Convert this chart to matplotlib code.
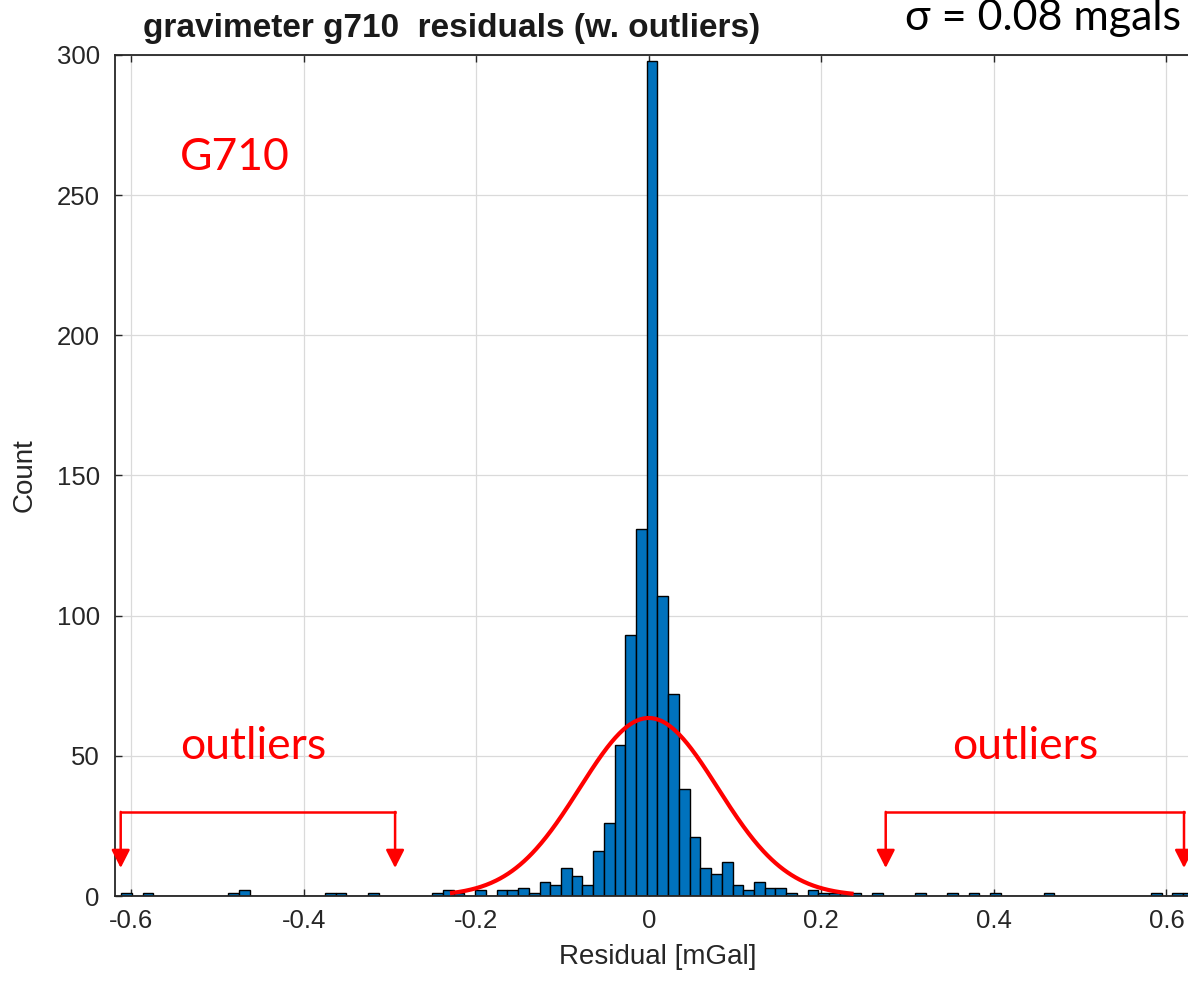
import numpy as np
import matplotlib.pyplot as plt

# histogram of residuals, fixed-width bins starting at bin_start
bin_start = -0.6114
bin_width = 0.01243
counts = [
    1, 0, 1, 0, 0, 0, 0, 0, 0, 0,        # -0.611 .. -0.499
    1, 2, 0, 0, 0, 0, 0, 0, 0, 1,        # -0.487 .. -0.375
    1, 0, 0, 1, 0, 0, 0, 0, 0, 1,        # -0.362 .. -0.251
    2, 1, 0, 2, 0, 2, 2, 3, 1, 5,        # -0.238 .. -0.126
    4, 10, 7, 4, 16, 26, 54, 93, 131, 298,   # -0.114 .. -0.002
    107, 72, 38, 21, 10, 8, 12, 4, 2, 5,  # 0.010 .. 0.122
    3, 3, 1, 0, 2, 1, 1, 1, 1, 0,        # 0.134 .. 0.246
    1, 0, 0, 0, 1, 0, 0, 1, 0, 1,        # 0.259 .. 0.371
    0, 1, 0, 0, 0, 0, 1, 0, 0, 0,        # 0.383 .. 0.495
    0, 0, 0, 0, 0, 0, 1, 0, 1, 1,        # 0.508 .. 0.619
]

# normal fit drawn over the core of the distribution
fit_mu = 0.0
fit_sigma = 0.08
fit_peak = 63.5
fit_range = (-0.228, 0.235)

xticks = [-0.6, -0.4, -0.2, 0, 0.2, 0.4, 0.6]
yticks = [0, 50, 100, 150, 200, 250, 300]

# outlier brackets: (left x, right x) in mGal
bracket_left = (-0.612, -0.294)
bracket_right = (0.2746, 0.6203)
bracket_top = 30
bracket_tip = 10

plt.rcParams['font.family'] = ['Liberation Sans', 'DejaVu Sans']
plt.rcParams['axes.unicode_minus'] = False

fig = plt.figure(figsize=(11.88, 9.85), dpi=100)
ax = fig.add_axes([115 / 1188, 89 / 985, 1086 / 1188, 841 / 985])

edges = bin_start + bin_width * np.arange(len(counts) + 1)
ax.bar(edges[:-1], counts, width=bin_width, align='edge',
       color='#0072BD', edgecolor='black', linewidth=1.0, zorder=2)

xs = np.linspace(fit_range[0], fit_range[1], 400)
ys = fit_peak * np.exp(-0.5 * ((xs - fit_mu) / fit_sigma) ** 2)
ax.plot(xs, ys, color='red', linewidth=3.0, zorder=3)

ax.set_xlim(-0.6186, 0.64)
ax.set_ylim(0, 300)
ax.set_xticks(xticks)
ax.set_xticklabels([f'{t:g}' for t in xticks])
ax.set_yticks(yticks)
ax.grid(True, color='#dadada', linewidth=0.9, zorder=0)
ax.set_axisbelow(True)

ax.tick_params(direction='in', length=5, width=1, top=True, right=False,
               labelsize=18.5, colors='#262626', pad=9)
ax.tick_params(axis='y', pad=11)
for side in ['left', 'bottom', 'top', 'right']:
    ax.spines[side].set_color('#262626')
    ax.spines[side].set_linewidth(1.3)

ax.set_xlabel('Residual [mGal]', fontsize=20, color='#262626', labelpad=8)
ax.set_ylabel('Count', fontsize=20, color='#262626', labelpad=14)

fig.text(452 / 1188, 1 - 28 / 985, 'gravimeter g710  residuals (w. outliers)',
         fontsize=24, fontweight='bold', color='#1a1a1a',
         ha='center', va='center')
fig.text(905 / 1188, 1 - 18 / 985, 'σ = 0.08 mgals', fontsize=31,
         family=['Lato', 'DejaVu Sans'], color='black', ha='left', va='center')

# red annotations
ax.text(-0.543, 263.5, 'G710', fontsize=32, family=['Lato', 'DejaVu Sans'],
        color='red', ha='left', va='center')
ax.text(-0.543, 53.5, 'outliers', fontsize=32, family=['Lato', 'DejaVu Sans'],
        color='red', ha='left', va='center')
ax.text(0.3515, 53.5, 'outliers', fontsize=32, family=['Lato', 'DejaVu Sans'],
        color='red', ha='left', va='center')

for x0, x1 in [bracket_left, bracket_right]:
    ax.plot([x0, x1], [bracket_top, bracket_top], color='red',
            linewidth=1.8, zorder=4, clip_on=False)
    for x in (x0, x1):
        ax.annotate('', xy=(x, bracket_tip), xytext=(x, bracket_top),
                    arrowprops=dict(arrowstyle='-|>,head_length=0.55,head_width=0.28',
                                    color='red', linewidth=1.8,
                                    shrinkA=0, shrinkB=0, mutation_scale=20),
                    zorder=4, annotation_clip=False)

fig.savefig('out.png', dpi=100)
